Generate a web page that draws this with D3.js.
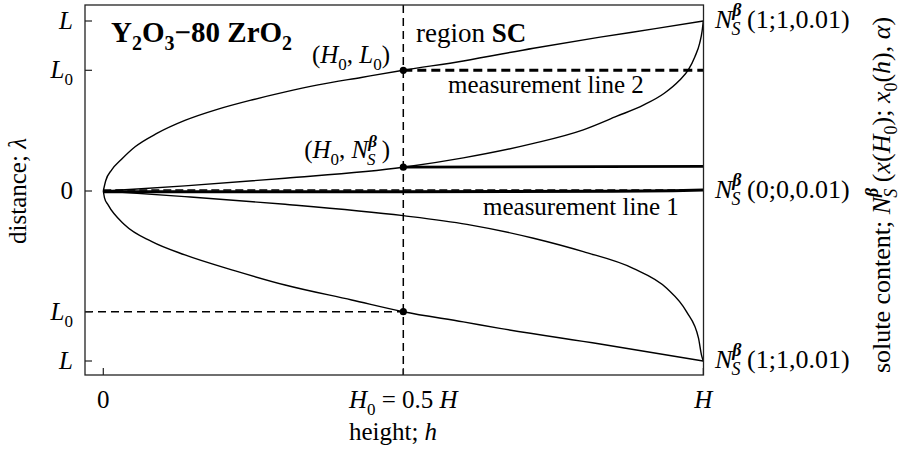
<!DOCTYPE html>
<html><head><meta charset="utf-8">
<script src="https://cdn.jsdelivr.net/npm/d3@7"></script>
</head>
<body style="margin:0;background:#fff"><svg id="c" width="901" height="450"></svg>
<script>
// ---------- data (h in units of H, lambda in units of L) ----------
const L0 = 0.71;          // measurement depth L0 / L
const H0 = 0.5;           // H0 / H
const NsAtH0 = 0.14;      // N_S^beta at H0

const boundaryUpper = [[0,0],[0.004,0.06],[0.014,0.124],[0.03,0.185],[0.053,0.26],[0.09,0.34],[0.136,0.415],[0.19,0.48],[0.247,0.535],[0.3,0.58],[0.358,0.624],[0.43,0.668],[0.5,0.71],[0.6,0.765],[0.717,0.84],[0.828,0.905],[0.92,0.955],[1,1]];
const boundaryLower = [[0,0],[0.002,-0.04],[0.008,-0.082],[0.036,-0.2],[0.081,-0.298],[0.136,-0.376],[0.22,-0.47],[0.303,-0.553],[0.414,-0.641],[0.5,-0.71],[0.6,-0.77],[0.661,-0.808],[0.828,-0.9],[1,-1]];
const soluteUpper = [[0,0],[0.05,0.01],[0.136,0.03],[0.303,0.075],[0.5,0.14],[0.6,0.195],[0.717,0.28],[0.8,0.36],[0.856,0.44],[0.9,0.505],[0.935,0.575],[0.96,0.65],[0.975,0.712],[0.986,0.79],[0.994,0.87],[0.998,0.94],[1,1]];
const soluteLower = [[0,0],[0.136,-0.033],[0.303,-0.078],[0.5,-0.145],[0.606,-0.196],[0.717,-0.278],[0.8,-0.357],[0.883,-0.455],[0.939,-0.572],[0.972,-0.71],[0.992,-0.866],[0.997,-0.965],[1,-1]];
const soluteZero = [[0,-0.004],[0.5,-0.004],[0.85,-0.002],[0.95,0.002],[1,0.006]];
const levelAtH0 = [[0.5,0.14],[1,0.145]];
const measLine1 = [[0,0.006],[1,0.006]];
const measLine2 = [[0.5,L0],[1,L0]];
const markPoints = [[H0,L0],[H0,NsAtH0],[H0,-L0]];

const hTicks = [0, 0.5, 1];
const hTickLabels = [
  [{t:'0'}],
  [{t:'H',i:1},{t:'0',sub:1},{t:' = 0.5 '},{t:'H',i:1}],
  [{t:'H',i:1}]
];
const lamTicks = [1, L0, 0, -L0, -1];
const lamTickLabels = [
  [{t:'L',i:1}],
  [{t:'L',i:1},{t:'0',sub:1}],
  [{t:'0'}],
  [{t:'L',i:1},{t:'0',sub:1}],
  [{t:'L',i:1}]
];
const NS = [{t:'N',i:1},{stack:[{t:'β',sup:1,b:1,i:1,w:0.52},{t:'S',sub:1,i:1}]}];
const rightLabelLevels = [1, 0, -1];
const rightLabels = [
  NS.concat([{t:' (1;1,0.01)'}]),
  NS.concat([{t:' (0;0,0.01)'}]),
  NS.concat([{t:' (1;1,0.01)'}])
];
const titleText = [{t:'Y',b:1},{t:'2',sub:1,b:1},{t:'O',b:1},{t:'3',sub:1,b:1},{t:'−80 ZrO',b:1},{t:'2',sub:1,b:1}];
const regionText = [{t:'region '},{t:'SC',b:1}];
const ptLabelL0 = [{t:'('},{t:'H',i:1},{t:'0',sub:1},{t:', '},{t:'L',i:1},{t:'0',sub:1},{t:')'}];
const ptLabelNs = [{t:'('},{t:'H',i:1},{t:'0',sub:1},{t:', '}].concat(NS,[{t:' )'}]);
const xTitle = [{t:'height; '},{t:'h',i:1}];
const yTitle = [{t:'distance; '},{t:'λ',i:1}];
const y2Title = [{t:'solute content; '}].concat(NS,[{t:' ('},{t:'x',i:1},{t:'('},{t:'H',i:1},{t:'0',sub:1},{t:'); '},{t:'x',i:1},{t:'0',sub:1},{t:'('},{t:'h',i:1},{t:'), '},{t:'α',i:1},{t:')'}]);

// ---------- layout ----------
const svg = d3.select('#c');
const frame = {l:85, r:703.5, t:5, b:375};
const x = d3.scaleLinear().domain([0,1]).range([103.3,703.3]);
const y = d3.scaleLinear().domain([-1,1]).range([361,21]);
const line = d3.line().x(d=>x(d[0])).y(d=>y(d[1]));
const smooth = d3.line().x(d=>x(d[0])).y(d=>y(d[1])).curve(d3.curveMonotoneX);

function rich(sel, segs, o){
  const size = o.size || 24, ss = Math.round(size*0.68);
  const SUP = -Math.round(size*0.45), SUB = Math.round(size*0.27);
  const t = sel.append('text').attr('x',o.x).attr('y',o.y)
    .attr('font-family','"Liberation Serif"').attr('font-size',size)
    .attr('xml:space','preserve');
  if (o.anchor) t.attr('text-anchor',o.anchor);
  if (o.rotate) t.attr('transform',`rotate(${o.rotate},${o.x},${o.y})`);
  let cur = 0;
  function add(s, dx){
    const target = s.sup ? SUP : s.sub ? SUB : 0;
    const sp = t.append('tspan').text(s.t);
    if (target !== cur) sp.attr('dy', target-cur);
    cur = target;
    if (s.sub||s.sup) sp.attr('font-size', ss);
    if (s.i) sp.attr('font-style','italic');
    if (s.b) sp.attr('font-weight','bold');
    if (dx) sp.attr('dx', Math.round(dx));
  }
  segs.forEach(s=>{
    if (s.stack){ add(s.stack[0]); add(s.stack[1], -s.stack[0].w*ss - 1); }
    else add(s);
  });
  return t;
}

// texts
const txt = svg.append('g');
lamTicks.forEach((v,i)=>rich(txt, lamTickLabels[i], {x:73, y:y(v)+8, anchor:'end', size:25}));
hTicks.forEach((v,i)=>rich(txt, hTickLabels[i], {x:x(v), y:408, anchor:'middle', size:25}));
rightLabelLevels.forEach((v,i)=>rich(txt, rightLabels[i], {x:715, y:y(v)+7, size:26}));
rich(txt, xTitle, {x:393, y:440, anchor:'middle', size:25});
rich(txt, yTitle, {x:26, y:191, anchor:'middle', size:25, rotate:-90});
rich(txt, y2Title, {x:890, y:195, anchor:'middle', size:26, rotate:-90});
rich(txt, titleText, {x:111, y:42, size:29});
rich(txt, regionText, {x:416, y:42, size:27});
rich(txt, ptLabelL0, {x:390, y:63, anchor:'end', size:25});
rich(txt, ptLabelNs, {x:390, y:158, anchor:'end', size:25});
rich(txt, [{t:'measurement line 2'}], {x:448, y:93, size:25});
rich(txt, [{t:'measurement line 1'}], {x:483, y:215, size:25});

// curves
const curves = svg.append('g').attr('fill','none').attr('stroke','#000');
[boundaryUpper, boundaryLower, soluteUpper, soluteLower].forEach(c=>{
  curves.append('path').attr('d',smooth(c)).attr('stroke-width',1.4);
});
curves.append('path').attr('d',smooth(soluteZero)).attr('stroke-width',3);
curves.append('path').attr('d',line(measLine1)).attr('stroke-width',1.6).attr('stroke-dasharray','8,4');
curves.append('path').attr('d',line(levelAtH0)).attr('stroke-width',2.8);
curves.append('path').attr('d',line(measLine2)).attr('stroke-width',3).attr('stroke-dasharray','9,5');
curves.append('line').attr('x1',x(H0)).attr('x2',x(H0)).attr('y1',frame.t).attr('y2',frame.b)
  .attr('stroke-width',1.5).attr('stroke-dasharray','8,5');
curves.append('line').attr('x1',frame.l).attr('x2',x(H0)).attr('y1',y(-L0)).attr('y2',y(-L0))
  .attr('stroke-width',1.5).attr('stroke-dasharray','8,5');
svg.append('g').selectAll('circle').data(markPoints).join('circle')
  .attr('cx',d=>x(d[0])).attr('cy',d=>y(d[1])).attr('r',3.6).attr('fill','#000');

// frame + ticks
svg.append('rect').attr('x',frame.l).attr('y',frame.t).attr('width',frame.r-frame.l).attr('height',frame.b-frame.t)
  .attr('fill','none').attr('stroke','#222').attr('stroke-width',1.3);
const tk = svg.append('g').attr('stroke','#222').attr('stroke-width',1.2);
lamTicks.forEach(v=>tk.append('line').attr('x1',frame.l).attr('x2',frame.l+7).attr('y1',y(v)).attr('y2',y(v)));
hTicks.forEach(v=>tk.append('line').attr('x1',x(v)).attr('x2',x(v)).attr('y1',frame.b).attr('y2',frame.b-7));
</script></body></html>
